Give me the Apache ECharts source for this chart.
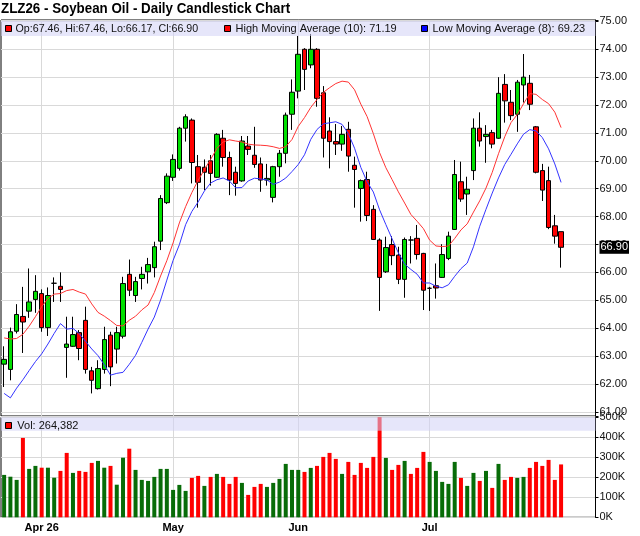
<!DOCTYPE html>
<html>
<head>
<meta charset="utf-8">
<title>ZLZ26 - Soybean Oil - Daily Candlestick Chart</title>
<script src="https://cdn.jsdelivr.net/npm/echarts@6/dist/echarts.min.js"></script>
<style>
  html, body { margin: 0; padding: 0; background: #fff; }
  #chart { width: 640px; height: 536px; }
</style>
</head>
<body>
<div id="chart"></div>
<script>
var chartTitle = 'ZLZ26 - Soybean Oil - Daily Candlestick Chart';

// trading days on the axis (2026), aug ones are empty room on the right
var marDays = [24, 25, 26, 27, 30, 31];
var aprDays = [1, 2, 6, 7, 8, 9, 10, 13, 14, 15, 16, 17, 20, 21, 22, 23, 24, 27, 28, 29, 30];
var mayDays = [1, 4, 5, 6, 7, 8, 11, 12, 13, 14, 15, 18, 19, 20, 21, 22, 26, 27, 28, 29];
var junDays = [1, 2, 3, 4, 5, 8, 9, 10, 11, 12, 15, 16, 17, 18, 22, 23, 24, 25, 26, 29, 30];
var julDays = [1, 2, 6, 7, 8, 9, 10, 13, 14, 15, 16, 17, 20, 21, 22, 23, 24, 27, 28, 29, 30, 31];
var augDays = [3, 4, 5, 6, 7];

var tickDates = ['2026-04-01', '2026-05-01', '2026-06-01', '2026-07-01'];
var tickLabels = ['Apr 26', 'May', 'Jun', 'Jul'];

var opens = [62.71,62.52,63.89,64.42,64.61,65.03,65.24,64.02,65.61,65.50,
  63.31,63.35,63.84,64.28,62.47,61.83,62.52,63.75,63.25,63.71,
  65.93,65.17,65.78,66.02,66.17,67.12,68.50,69.41,69.73,71.17,
  71.46,69.79,69.77,70.00,69.41,70.81,70.12,69.59,69.28,70.53,
  70.20,69.89,69.31,68.69,69.79,70.27,71.67,72.50,74.00,73.44,
  74.00,72.44,71.07,70.69,70.60,71.13,69.84,69.01,69.33,68.26,
  67.16,66.02,67.00,66.62,65.75,67.16,67.22,66.68,65.43,65.52,
  65.82,66.50,67.54,69.25,68.81,69.65,71.17,70.87,71.01,70.81,
  72.74,72.10,71.67,72.72,72.78,71.22,69.65,69.29,67.67,67.46];
var highs = [63.35,64.02,64.86,65.48,66.14,65.90,65.39,65.46,65.82,66.00,
  64.41,64.41,63.93,64.77,62.61,62.85,64.05,63.87,64.05,65.84,
  66.46,65.84,66.20,66.52,67.10,68.77,69.55,70.23,71.22,71.67,
  71.52,70.21,70.05,70.21,70.99,71.11,70.33,69.79,70.89,70.89,
  71.22,70.12,69.89,69.82,70.39,71.73,72.92,74.48,74.04,74.55,
  74.04,72.68,71.56,71.32,71.25,71.40,70.15,69.33,69.61,68.41,
  67.22,67.28,67.30,66.92,67.25,67.30,67.70,66.70,65.48,66.32,
  67.01,67.46,70.03,69.97,69.43,71.52,71.74,71.28,71.11,73.00,
  73.11,72.54,72.90,73.83,73.08,71.25,69.89,69.79,68.06,67.46];
var lows = [61.89,62.13,63.81,63.11,64.37,64.55,63.87,63.72,64.94,64.94,
  62.22,63.33,62.85,62.37,61.66,61.80,62.37,61.92,62.73,63.63,
  65.15,64.94,65.39,65.60,65.82,66.80,68.45,69.28,69.65,70.69,
  69.19,68.32,68.95,69.11,69.39,69.79,68.77,68.75,69.25,70.21,
  69.75,68.89,69.11,68.51,69.43,69.91,71.11,72.24,72.54,73.32,
  71.94,70.12,69.73,70.21,70.36,69.61,68.32,67.82,67.84,67.16,
  64.62,65.98,66.26,65.58,65.09,66.32,66.46,64.65,64.62,65.06,
  65.80,66.44,67.52,68.53,68.06,69.31,70.51,69.93,70.45,70.79,
  71.37,71.46,71.04,72.09,71.82,69.55,68.56,67.55,67.03,66.17];
var closes = [62.88,63.87,64.49,64.22,64.94,65.32,64.02,65.17,65.61,65.39,
  63.43,63.77,63.27,62.52,62.13,62.55,63.59,62.61,63.84,65.60,
  65.36,65.67,65.93,66.28,66.92,68.65,69.45,70.05,71.17,71.58,
  69.94,69.23,69.59,69.55,70.95,70.12,69.31,69.19,70.71,70.41,
  69.87,69.31,69.37,69.79,70.27,71.64,72.46,73.82,73.28,74.00,
  72.24,70.81,70.69,70.60,70.95,70.17,69.69,69.29,68.04,67.18,
  65.82,66.89,66.60,65.75,67.18,67.16,66.64,65.36,65.43,65.44,
  66.64,67.30,69.51,68.63,68.98,71.17,70.71,70.95,70.60,72.42,
  72.15,71.62,72.82,73.00,72.03,69.59,68.95,67.61,67.30,66.90];
var volumes = [212000,203000,187000,397000,242000,257000,248000,248000,198000,232000,
  322000,222000,232000,227000,272000,282000,248000,257000,163000,298000,
  343000,237000,187000,182000,202000,242000,242000,137000,162000,132000,
  197000,207000,157000,202000,217000,202000,167000,202000,172000,112000,
  152000,167000,152000,172000,192000,267000,237000,237000,227000,247000,
  257000,302000,322000,292000,217000,277000,212000,272000,247000,302000,
  560000,297000,237000,262000,282000,217000,247000,327000,277000,232000,
  177000,167000,277000,197000,157000,222000,182000,232000,147000,267000,
  187000,202000,197000,202000,247000,277000,257000,287000,187000,264382];

var hiMaLen = 10, loMaLen = 8;
var hiMaHead = [63.65, 63.61, 63.63, 63.78, 64.07, 64.41, 64.77, 65.06, 65.22];
var loMaHead = [61.66, 61.50, 61.85, 62.15, 62.48, 62.80, 63.08];

var FONT = "'Liberation Sans', Arial, sans-serif";
var UP = '#00e000', DOWN = '#ff0000';
var VOL_UP = '#086c08', VOL_DOWN = '#ff0000';
var GRID_LINE = '#d9d9d9';

function pad(n) { return (n < 10 ? '0' : '') + n; }
var dates = [];
[['03', marDays], ['04', aprDays], ['05', mayDays], ['06', junDays], ['07', julDays], ['08', augDays]]
  .forEach(function (m) {
    m[1].forEach(function (d) { dates.push('2026-' + m[0] + '-' + pad(d)); });
  });

function movingAvg(src, len, head) {
  var out = [];
  for (var i = 0; i < src.length; i++) {
    if (i < len - 1) { out.push(head[i]); continue; }
    var s = 0;
    for (var j = i - len + 1; j <= i; j++) s += src[j];
    out.push(+(s / len).toFixed(3));
  }
  return out;
}
var hiMa = movingAvg(highs, hiMaLen, hiMaHead);
var loMa = movingAvg(lows, loMaLen, loMaHead);

var candles = opens.map(function (o, i) { return [o, closes[i], lows[i], highs[i]]; });
var volBars = volumes.map(function (v, i) {
  var up = i === 0 || closes[i] >= closes[i - 1];
  return { value: v, itemStyle: { color: up ? VOL_UP : VOL_DOWN } };
});

var last = opens.length - 1;
var ohlcText = 'Op:' + opens[last].toFixed(2) + ', Hi:' + highs[last].toFixed(2) +
  ', Lo:' + lows[last].toFixed(2) + ', Cl:' + closes[last].toFixed(2);
var hiMaText = 'High Moving Average (' + hiMaLen + '): ' + hiMa[last].toFixed(2);
var loMaText = 'Low Moving Average (' + loMaLen + '): ' + loMa[last].toFixed(2);
var volText = 'Vol: ' + volumes[last].toLocaleString('en-US');

function monthLines() {
  return {
    silent: true, z: 1, animation: false,
    symbol: ['none', 'none'],
    label: { show: false },
    lineStyle: { color: GRID_LINE, type: 'solid', width: 1 },
    emphasis: { disabled: true },
    data: tickDates.map(function (d) { return { xAxis: d }; })
  };
}

var axisText = { fontFamily: FONT, fontSize: 11, color: '#111' };
var legendFont = "11px 'Liberation Sans', Arial";

var chart = echarts.init(document.getElementById('chart'), null, { renderer: 'canvas' });
chart.setOption({
  animation: false,
  backgroundColor: '#fff',
  grid: [
    { left: 1, right: 44.5, top: 20, height: 396, show: true, borderColor: '#000', borderWidth: 1, outerBoundsMode: 'none' },
    { left: 1, right: 44.5, top: 417.3, height: 100, show: true, borderColor: '#000', borderWidth: 1, outerBoundsMode: 'none' }
  ],
  xAxis: [
    { type: 'category', gridIndex: 0, data: dates, boundaryGap: true,
      axisLine: { show: false }, axisTick: { show: false }, axisLabel: { show: false }, splitLine: { show: false } },
    { type: 'category', gridIndex: 1, data: dates, boundaryGap: true,
      axisLine: { show: false }, axisTick: { show: false }, splitLine: { show: false },
      axisLabel: {
        fontFamily: FONT, fontSize: 11, fontWeight: 'bold', color: '#000', margin: 5,
        interval: function (idx, val) { return tickDates.indexOf(val) >= 0; },
        formatter: function (val) { return tickLabels[tickDates.indexOf(val)] || ''; }
      } }
  ],
  yAxis: [
    { type: 'value', gridIndex: 0, position: 'right', min: 60.85, max: 75.05,
      splitNumber: 14, minInterval: 1, maxInterval: 1,
      axisLine: { show: true, lineStyle: { color: '#000' } },
      axisTick: { show: true, length: 3, lineStyle: { color: '#000' } },
      splitLine: { show: true, lineStyle: { color: GRID_LINE } },
      axisLabel: Object.assign({ margin: 4, formatter: function (v) {
        return Math.abs(v - Math.round(v)) < 1e-6 ? v.toFixed(2) : '';
      } }, axisText) },
    { type: 'value', gridIndex: 1, position: 'right', min: 0, max: 500000, interval: 100000,
      axisLine: { show: true, lineStyle: { color: '#000' } },
      axisTick: { show: true, length: 3, lineStyle: { color: '#000' } },
      splitLine: { show: true, lineStyle: { color: GRID_LINE } },
      axisLabel: Object.assign({ margin: 4, formatter: function (v) { return (v / 1000) + 'K'; } }, axisText) }
  ],
  series: [
    { type: 'candlestick', name: 'ZLZ26', xAxisIndex: 0, yAxisIndex: 0, data: candles,
      barWidth: 5, silent: true,
      itemStyle: { color: UP, color0: DOWN, borderColor: '#000', borderColor0: '#000',
        borderColorDoji: '#000', borderWidth: 1 },
      markLine: {
        silent: true, animation: false, symbol: ['none', 'none'], z: 10,
        lineStyle: { width: 0, color: 'rgba(0,0,0,0)' },
        label: { show: true, position: 'end', distance: 4, formatter: closes[last].toFixed(2),
          fontFamily: FONT, fontSize: 11, color: '#fff', backgroundColor: '#000',
          padding: [1, 1, 1, 1], opacity: 1 },
        data: [{ yAxis: closes[last] }]
      } },
    { type: 'line', name: 'High MA', xAxisIndex: 0, yAxisIndex: 0, data: hiMa,
      showSymbol: false, symbol: 'none', silent: true,
      lineStyle: { color: '#ff3434', width: 1 }, itemStyle: { color: '#ff3434' },
      markLine: monthLines() },
    { type: 'line', name: 'Low MA', xAxisIndex: 0, yAxisIndex: 0, data: loMa,
      showSymbol: false, symbol: 'none', silent: true,
      lineStyle: { color: '#3434ff', width: 1 }, itemStyle: { color: '#3434ff' } },
    { type: 'bar', name: 'Volume', xAxisIndex: 1, yAxisIndex: 1, data: volBars,
      barWidth: 4, silent: true, clip: true,
      markLine: monthLines() }
  ],
  graphic: [
    { type: 'text', x: 1, y: 1, scaleX: 0.92, z: 100,
      style: { text: chartTitle, font: "bold 14.5px 'Liberation Sans', Arial", fill: '#000', verticalAlign: 'top' } },
    { type: 'rect', z: 100, shape: { x: 1, y: 21, width: 594.5, height: 15 },
      style: { fill: 'rgba(210,210,246,0.55)' } },
    { type: 'rect', z: 101, shape: { x: 5.5, y: 25.5, width: 6, height: 6 },
      style: { fill: DOWN, stroke: '#000', lineWidth: 1 } },
    { type: 'text', x: 15.5, y: 29, scaleX: 0.97, z: 101,
      style: { text: ohlcText, font: legendFont, fill: '#111', verticalAlign: 'middle' } },
    { type: 'rect', z: 101, shape: { x: 224.5, y: 25.5, width: 6, height: 6 },
      style: { fill: DOWN, stroke: '#000', lineWidth: 1 } },
    { type: 'text', x: 235.5, y: 29, z: 101,
      style: { text: hiMaText, font: legendFont, fill: '#111', verticalAlign: 'middle' } },
    { type: 'rect', z: 101, shape: { x: 421.5, y: 25.5, width: 6, height: 6 },
      style: { fill: '#0000ff', stroke: '#000', lineWidth: 1 } },
    { type: 'text', x: 432.5, y: 29, z: 101,
      style: { text: loMaText, font: legendFont, fill: '#111', verticalAlign: 'middle' } },
    { type: 'rect', z: 100, shape: { x: 1, y: 417.3, width: 594.5, height: 13.4 },
      style: { fill: 'rgba(210,210,246,0.55)' } },
    { type: 'rect', z: 101, shape: { x: 5.5, y: 422.5, width: 6, height: 6 },
      style: { fill: DOWN, stroke: '#000', lineWidth: 1 } },
    { type: 'text', x: 17.3, y: 425.5, z: 101,
      style: { text: volText, font: legendFont, fill: '#111', verticalAlign: 'middle' } }
  ]
});
</script>
</body>
</html>
